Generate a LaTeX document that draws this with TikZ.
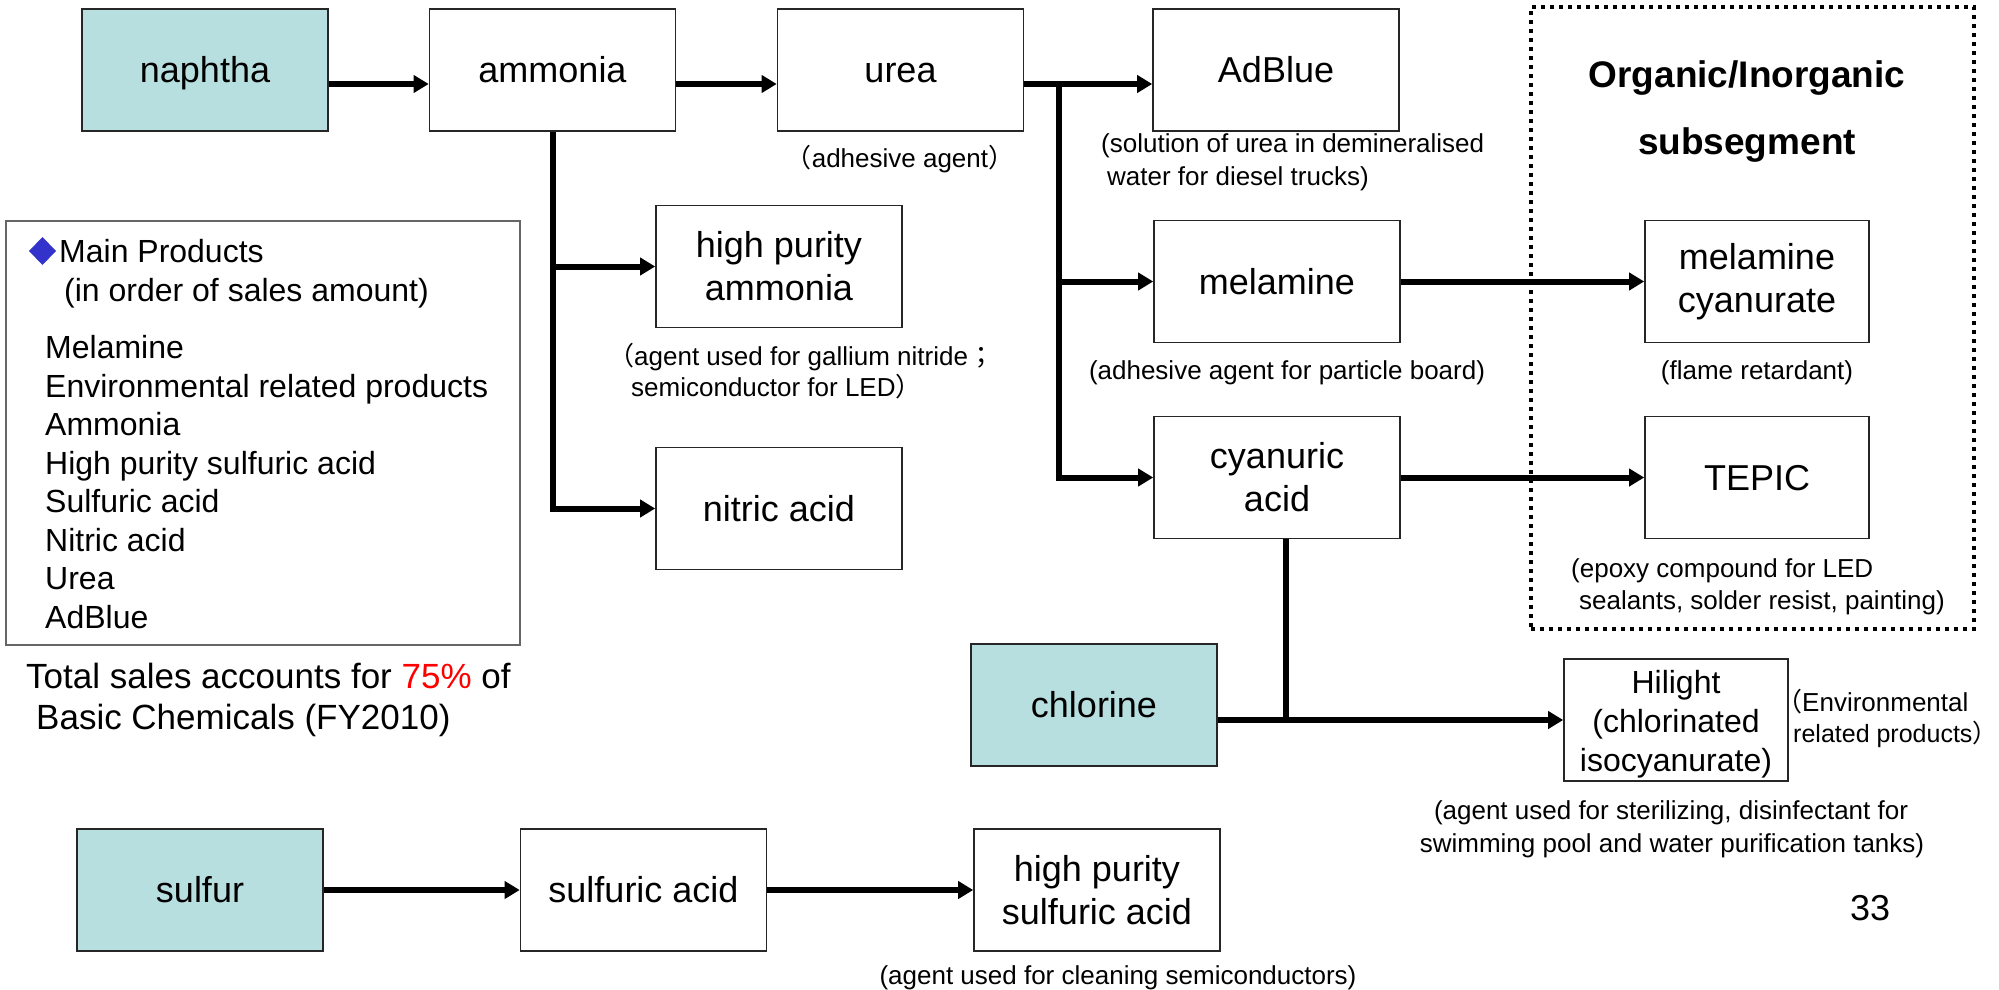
\documentclass[tikz,border=0pt]{standalone}
\usepackage{fontspec}
\setmainfont{Liberation Sans}
\newfontfamily\cjk{Noto Sans CJK JP}
\usetikzlibrary{arrows.meta}
\definecolor{srcfill}{RGB}{184,223,224}
\definecolor{bulletblue}{RGB}{51,51,204}
\definecolor{redtxt}{RGB}{255,0,0}
\newcommand\myfs[2]{\fontsize{#1}{#2}\selectfont}
\begin{document}
\begin{tikzpicture}[x=1pt,y=-1pt,
  box/.style={draw=black!85, line width=1.6pt, minimum width=246pt, minimum height=122pt,
    inner sep=0pt, align=center, font=\myfs{36}{43}},
  single/.style={text height=32.6pt, text depth=7.6pt},
  narrowbox/.style={box, minimum width=224pt},
  src/.style={box, single, fill=srcfill},
  arr/.style={line width=6pt, -{Triangle[length=15pt,width=17pt]}},
  conn/.style={line width=6pt},
  ann/.style={inner sep=0pt, font=\myfs{26}{31}},
  leg/.style={inner sep=0pt, font=\myfs{32}{38}, anchor=base west},
  big/.style={inner sep=0pt, font=\myfs{35}{42}, anchor=base west},
  segtitle/.style={inner sep=0pt, font=\myfs{37}{44}\bfseries, anchor=base},
  legendbox/.style={draw=black!60, line width=1.2pt, inner sep=0pt},
  segbox/.style={draw=black, line width=4pt, dash pattern=on 4pt off 5pt, inner sep=0pt}
]
\useasboundingbox (0,0) rectangle (1999,990);

% frames
\node[legendbox, minimum width=514pt, minimum height=424pt] (legend) at (263,433) {};
\node[segbox, minimum width=443pt, minimum height=622pt] (seg) at (1752.5,318) {};

% boxes
\node[src] (naphtha) at (205,70) {naphtha};
\node[box, single] (ammonia) at (552.5,70) {ammonia};
\node[box, single] (urea) at (900.5,70) {urea};
\node[box, single] (adblue) at (1276,70) {AdBlue};
\node[box] (hpammonia) at (779,266.5) {high purity\\ammonia};
\node[box, single] (nitric) at (779,508.5) {nitric acid};
\node[box, single] (melamine) at (1277,281.5) {melamine};
\node[box] (cyanuric) at (1277,477.5) {cyanuric\\acid};
\node[narrowbox] (melcyan) at (1757,281.5) {melamine\\cyanurate};
\node[narrowbox, single] (tepic) at (1757,477.5) {TEPIC};
\node[src] (chlorine) at (1094,705) {chlorine};
\node[narrowbox, font=\myfs{32}{39}] (hilight) at (1676,720) {\rule{0pt}{31pt}Hilight\\(chlorinated\\isocyanurate)};
\node[src] (sulfur) at (200,890) {sulfur};
\node[box, single] (sulfuric) at (643.5,890) {sulfuric acid};
\node[box] (hpsulf) at (1097,890) {high purity\\sulfuric acid};

% connectors
\coordinate (uj) at (1059,84);
\coordinate (cj) at (1286,719);
\draw[arr] ([yshift=-14pt]naphtha.east) -- ([yshift=-14pt]ammonia.west);
\draw[arr] ([yshift=-14pt]ammonia.east) -- ([yshift=-14pt]urea.west);
\draw[arr] ([yshift=-14pt]urea.east) -- ([yshift=-14pt]adblue.west);
\draw[arr] (ammonia.south) |- (nitric.west);
\draw[arr] (ammonia.south |- hpammonia.west) -- (hpammonia.west);
\draw[arr] (uj) |- (cyanuric.west);
\draw[arr] (uj |- melamine.west) -- (melamine.west);
\draw[arr] (melamine.east) -- (melcyan.west);
\draw[arr] (cyanuric.east) -- (tepic.west);
\draw[conn] (cyanuric.south -| cj) -- (cj);
\draw[arr] (chlorine.east |- hilight.west) -- (hilight.west);
\draw[arr] (sulfur.east) -- (sulfuric.west);
\draw[arr] (sulfuric.east) -- (hpsulf.west);

% annotations
\node[ann, anchor=base] (t-urea) at (900,167) {{\cjk （}adhesive agent{\cjk ）}};
\node[ann, anchor=base west] (t-hpa1) at (608,365) {{\cjk （}agent used for gallium nitride{\cjk ；}};
\node[ann, anchor=base west] (t-hpa2) at (631,396) {semiconductor for LED{\cjk ）}};
\node[ann, anchor=base west] (t-ad1) at (1101,152) {(solution of urea in demineralised};
\node[ann, anchor=base west] (t-ad2) at (1107,185) {water for diesel trucks)};
\node[ann, anchor=base] (t-mel) at (1287,379) {(adhesive agent for particle board)};
\node[ann, anchor=base] (t-mc) at (1757,379) {(flame retardant)};
\node[ann, anchor=base west] (t-tep1) at (1571,577) {(epoxy compound for LED};
\node[ann, anchor=base west] (t-tep2) at (1579,609) {sealants, solder resist, painting)};
\node[ann, anchor=base west] (t-env1) at (1776,711) {{\cjk （}Environmental};
\node[ann, anchor=base west, font=\myfs{25}{30}] (t-env2) at (1793,742) {related products{\cjk ）}\kern-0.5em};
\node[ann, anchor=base] (t-hl1) at (1671,819) {(agent used for sterilizing, disinfectant for};
\node[ann, anchor=base] (t-hl2) at (1672,852) {swimming pool and water purification tanks)};
\node[ann, anchor=base] (t-hps) at (1118,984) {(agent used for cleaning semiconductors)};
\node[inner sep=0pt, anchor=base, font=\myfs{36}{43}] (page) at (1870,920) {33};

% segment title
\node[segtitle] (seg1) at (1747,87) {Organic/Inorganic};
\node[segtitle] (seg2) at (1747,154) {subsegment};

% legend
\fill[bulletblue] (29,251) -- (42.5,237) -- (56,251) -- (42.5,265) -- cycle;
\node[leg] (l0) at (59,262) {Main Products};
\node[leg] (l1) at (64,301) {(in order of sales amount)};
\node[leg] (l2) at (45,358.5) {Melamine};
\node[leg] (l3) at (45,397) {Environmental related products};
\node[leg] (l4) at (45,435.5) {Ammonia};
\node[leg] (l5) at (45,474) {High purity sulfuric acid};
\node[leg] (l6) at (45,512.5) {Sulfuric acid};
\node[leg] (l7) at (45,551) {Nitric acid};
\node[leg] (l8) at (45,589.5) {Urea};
\node[leg] (l9) at (45,628) {AdBlue};

\node[big] (tot1) at (26,688) {Total sales accounts for \textcolor{redtxt}{75\%} of};
\node[big] (tot2) at (36,729) {Basic Chemicals (FY2010)};
\end{tikzpicture}
\end{document}
